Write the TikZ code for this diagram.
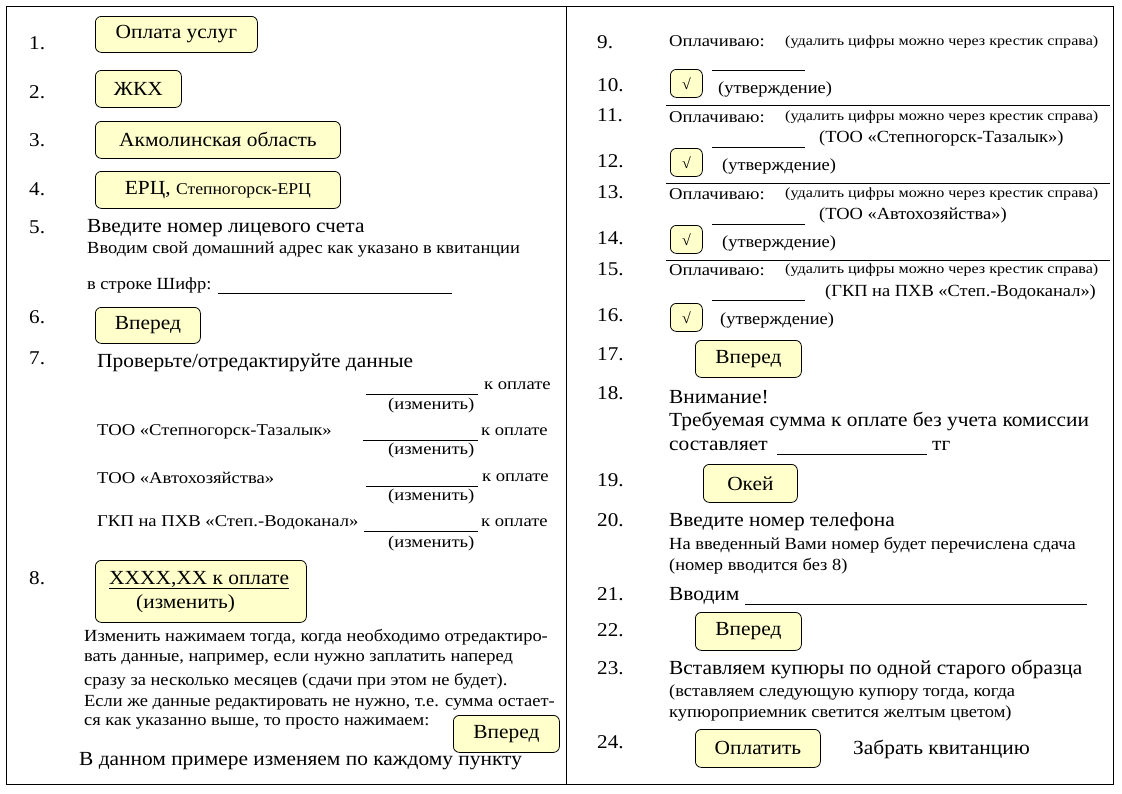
\documentclass[tikz,border=0pt]{standalone}
\usepackage{fontspec}
\setmainfont{Liberation Serif}
\newfontfamily\wfa[FakeStretch=1.07]{Liberation Serif}
\newfontfamily\wfb[FakeStretch=1.085]{Liberation Serif}
\newfontfamily\wfc[FakeStretch=1.13]{Liberation Serif}
\newfontfamily\wfd[FakeStretch=1.15]{Liberation Serif}
\definecolor{btnfill}{RGB}{255,255,204}
\begin{document}
\begin{tikzpicture}[x=1pt,y=-1pt,
 every node/.style={inner sep=0pt, anchor=west},
 big/.style={font=\wfa\fontsize{20}{24}\selectfont},
 mid/.style={font=\wfb\fontsize{17}{20}\selectfont},
 sml/.style={font=\wfc\fontsize{16.5}{19}\selectfont},
 tny/.style={font=\wfd\fontsize{14}{16}\selectfont},
 num/.style={font=\wfb\fontsize{19.5}{22}\selectfont},
 btn/.style={draw, rounded corners=6pt, fill=btnfill, anchor=north west, line width=0.8pt, font=\wfa\fontsize{20}{24}\selectfont},
 chk/.style={btn, minimum width=32pt, minimum height=28pt, font=\wfa\fontsize{15}{18}\selectfont},
 frm/.style={line width=1pt},
 rl/.style={line width=0.8pt}]
\useasboundingbox (0,0) rectangle (1122,793);
\fill[white] (0,0) rectangle (1122,793);
% frame
\draw[frm] (6,6) rectangle (1113,784);
\draw[frm] (566,6) -- (566,784);

% ---------- left column ----------
\node[num] (n1) at (29,43) {1.};
\node[btn, minimum width=162pt, minimum height=36pt] (b1) at (95,16) {Оплата услуг};
\node[num] (n2) at (29,92) {2.};
\node[btn, minimum width=86pt, minimum height=37pt] (b2) at (95,70) {ЖКХ};
\node[num] (n3) at (29,140) {3.};
\node[btn, minimum width=245pt, minimum height=37pt] (b3) at (95,121) {Акмолинская область};
\node[num] (n4) at (29,189) {4.};
\node[btn, minimum width=245pt, minimum height=37pt] (b4) at (95,171) {ЕРЦ, {\fontsize{16.5}{18}\selectfont Степногорск-ЕРЦ}};
\node[num] (n5) at (29,227) {5.};
\node[big] (t5) at (87,228) {Введите номер лицевого счета};
\node[mid] (t5b) at (87,250) {Вводим свой домашний адрес как указано в квитанции};
\node[mid] (t5c) at (87,285) {в строке Шифр:};
\draw[rl] (218,293) -- (452,293);
\node[num] (n6) at (29,317) {6.};
\node[btn, minimum width=105pt, minimum height=36pt] (b6) at (95,307) {Вперед};
\node[num] (n7) at (29,358) {7.};
\node[big] (t7) at (97,363) {Проверьте/отредактируйте данные};

\draw[rl] (366,394) -- (478,394);
\node[sml] (k0) at (484,386) {к оплате};
\node[sml] (i0) at (388,406) {(изменить)};
\node[sml] (r1) at (97,432) {ТОО «Степногорск-Тазалык»};
\draw[rl] (363,440) -- (478,440);
\node[sml] (k1) at (481,432) {к оплате};
\node[sml] (i1) at (388,451) {(изменить)};
\node[sml] (r2) at (97,478) {ТОО «Автохозяйства»};
\draw[rl] (366,486) -- (478,486);
\node[sml] (k2) at (482,478) {к оплате};
\node[sml] (i2) at (388,497) {(изменить)};
\node[sml] (r3) at (97,523) {ГКП на ПХВ «Степ.-Водоканал»};
\draw[rl] (364,531) -- (478,531);
\node[sml] (k3) at (481,523) {к оплате};
\node[sml] (i3) at (388,544) {(изменить)};

\node[num] (n8) at (29,578) {8.};
\node[btn, minimum width=211pt, minimum height=62pt] (b8) at (95,560) {};
\node[big] (b8a) at (109,580) {\underline{XXXX,XX к оплате}};
\node[big] (b8b) at (136,604) {(изменить)};
\node[mid] (p1) at (84,637) {Изменить нажимаем тогда, когда необходимо отредактиро-};
\node[mid] (p2) at (84,659) {вать данные, например, если нужно заплатить наперед};
\node[mid] (p3) at (84,681) {сразу за несколько месяцев (сдачи при этом не будет).};
\node[mid] (p4) at (84,703) {Если же данные редактировать не нужно, т.е. сумма остает-};
\node[mid] (p5) at (84,723) {ся как указанно выше, то просто нажимаем:};
\node[btn, minimum width=106pt, minimum height=37pt] (b8v) at (453,715) {Вперед};
\node[big] (t8) at (79,761) {В данном примере изменяем по каждому пункту};

% ---------- right column ----------
\node[num] (n9) at (597,42) {9.};
\node[sml] (o9) at (669,41) {Оплачиваю:};
\node[tny] (d9) at (785,42) {(удалить цифры можно через крестик справа)};
\node[num] (n10) at (597,85) {10.};
\draw[rl] (712,70) -- (805,70);
\node[chk] (c10) at (670,69) {√};
\node[mid] (u10) at (718,89) {(утверждение)};
\draw[rl] (666,105) -- (1110,105);

\node[num] (n11) at (597,115) {11.};
\node[sml] (o11) at (669,117) {Оплачиваю:};
\node[tny] (d11) at (785,117) {(удалить цифры можно через крестик справа)};
\draw[rl] (712,147) -- (805,147);
\node[mid] (s11) at (819,138) {(ТОО «Степногорск-Тазалык»)};
\node[num] (n12) at (597,161) {12.};
\node[chk] (c12) at (670,148) {√};
\node[mid] (u12) at (722,166) {(утверждение)};
\draw[rl] (666,183) -- (1110,183);

\node[num] (n13) at (597,192) {13.};
\node[sml] (o13) at (669,194) {Оплачиваю:};
\node[tny] (d13) at (785,194) {(удалить цифры можно через крестик справа)};
\draw[rl] (712,224) -- (805,224);
\node[mid] (s13) at (819,215) {(ТОО «Автохозяйства»)};
\node[num] (n14) at (597,238) {14.};
\node[chk] (c14) at (670,225) {√};
\node[mid] (u14) at (722,243) {(утверждение)};
\draw[rl] (666,260) -- (1110,260);

\node[num] (n15) at (597,269) {15.};
\node[sml] (o15) at (669,270) {Оплачиваю:};
\node[tny] (d15) at (785,270) {(удалить цифры можно через крестик справа)};
\draw[rl] (712,300) -- (805,300);
\node[mid] (s15) at (825,292) {(ГКП на ПХВ «Степ.-Водоканал»)};
\node[num] (n16) at (597,315) {16.};
\node[chk] (c16) at (670,303) {√};
\node[mid] (u16) at (720,320) {(утверждение)};

\node[num] (n17) at (597,354) {17.};
\node[btn, minimum width=106pt, minimum height=37pt] (b17) at (695,340) {Вперед};
\node[num] (n18) at (597,393) {18.};
\node[big] (t18a) at (669,397) {Внимание!};
\node[big] (t18b) at (669,421) {Требуемая сумма к оплате без учета комиссии};
\node[big] (t18c) at (669,446) {составляет};
\draw[rl] (777,454) -- (927,454);
\node[big] (t18d) at (932,446) {тг};
\node[num] (n19) at (597,480) {19.};
\node[btn, minimum width=94pt, minimum height=38pt] (b19) at (703,464) {Окей};
\node[num] (n20) at (597,520) {20.};
\node[big] (t20a) at (669,522) {Введите номер телефона};
\node[mid] (t20b) at (669,545) {На введенный Вами номер будет перечислена сдача};
\node[mid] (t20c) at (669,566) {(номер вводится без 8)};
\node[num] (n21) at (597,594) {21.};
\node[big] (t21) at (669,596) {Вводим};
\draw[rl] (745,604) -- (1087,604);
\node[num] (n22) at (597,630) {22.};
\node[btn, minimum width=106pt, minimum height=38pt] (b22) at (695,612) {Вперед};
\node[num] (n23) at (597,668) {23.};
\node[big] (t23a) at (669,669) {Вставляем купюры по одной старого образца};
\node[mid] (t23b) at (669,692) {(вставляем следующую купюру тогда, когда};
\node[mid] (t23c) at (669,713) {купюроприемник светится желтым цветом)};
\node[num] (n24) at (597,742) {24.};
\node[btn, minimum width=125pt, minimum height=38pt] (b24) at (695,729) {Оплатить};
\node[big] (t24) at (853,749) {Забрать квитанцию};
\end{tikzpicture}
\end{document}
